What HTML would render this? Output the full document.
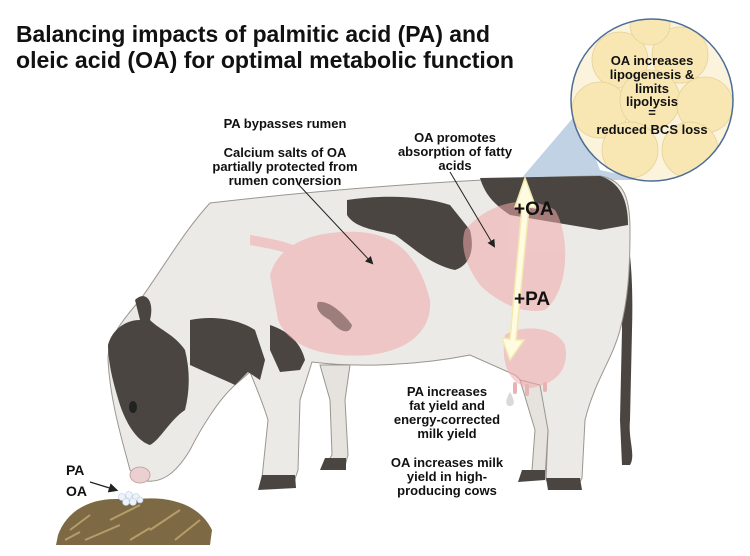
<!DOCTYPE html>
<html><head><meta charset="utf-8"><style>
html,body{margin:0;padding:0;background:#fff;}
svg{display:block;}
text{font-family:"Liberation Sans",sans-serif;font-weight:bold;fill:#111;}
</style></head><body>
<svg width="750" height="556" viewBox="0 0 750 556" xmlns="http://www.w3.org/2000/svg">
<defs>
<marker id="ah" markerWidth="8" markerHeight="8" refX="6" refY="4" orient="auto"><path d="M0,0 L8,4 L0,8 Z" fill="#222"/></marker>
<clipPath id="cc"><circle cx="652" cy="100" r="81"/></clipPath>
</defs>
<text x="16" y="42" font-size="23" textLength="474" lengthAdjust="spacingAndGlyphs">Balancing impacts of palmitic acid (PA) and</text>
<text x="16" y="68" font-size="23" textLength="498" lengthAdjust="spacingAndGlyphs">oleic acid (OA) for optimal metabolic function</text>

<polygon points="578,112 520,180 646,180 600,170" fill="#b9cde0" opacity="0.9"/>

<!-- tail -->
<path d="M600,180 C628,200 634,260 632,330 L630,420 C628,440 636,455 630,465 L622,465 L620,420 L622,330 C622,260 612,210 590,190 Z" fill="#4a4540"/>

<path d="M210,203 C320,190 470,178 600,176 C625,180 630,200 630,230 C630,270 628,300 620,330 C612,360 595,380 585,420 L582,478 L578,486 L555,488 L546,480 L548,430 C540,405 528,385 515,375 L470,355 C420,365 360,368 312,362 L300,400 L298,470 L294,482 L268,488 L262,478 L268,420 C262,400 255,385 250,372 L235,385 C218,400 200,430 190,450 C175,475 160,485 140,480 L130,470 C122,440 110,400 108,360 C108,340 118,325 140,300 C165,265 185,230 210,203 Z" fill="#eceae6" stroke="#9a958f" stroke-width="1"/>
<path d="M320,365 L330,400 L332,455 L325,465 L345,466 L348,455 L345,400 L350,365 Z" fill="#e6e3de" stroke="#9a958f" stroke-width="1"/>
<path d="M520,380 L535,430 L532,470 L528,478 L545,478 L548,430 L540,385 Z" fill="#e6e3de" stroke="#9a958f" stroke-width="1"/>
<path d="M262,475 L295,475 L296,488 L258,490 Z" fill="#4a4540"/>
<path d="M325,458 L346,458 L346,470 L320,470 Z" fill="#4a4540"/>
<path d="M546,478 L580,478 L582,490 L548,490 Z" fill="#4a4540"/>
<path d="M522,470 L545,470 L545,480 L518,482 Z" fill="#4a4540"/>
<path d="M347,200 C380,195 420,195 450,205 L470,230 C475,250 470,265 455,270 C430,265 410,245 395,235 C375,230 355,228 347,215 Z" fill="#4a4540"/>
<path d="M480,178 L600,176 C620,182 628,200 628,225 L600,230 C570,225 540,220 510,215 C495,205 485,195 480,178 Z" fill="#4a4540"/>
<path d="M190,320 C215,315 240,320 255,330 L265,360 L260,380 L248,372 L235,385 C225,380 205,372 190,365 Z" fill="#4a4540"/>
<path d="M270,325 C285,330 300,340 305,360 L300,370 L280,372 L270,350 Z" fill="#4a4540"/>
<path d="M108,345 C112,330 125,320 140,320 L135,300 C145,290 155,300 150,320 C160,330 175,335 185,350 C190,370 190,390 185,410 C170,420 160,440 150,445 C135,440 125,420 120,405 C112,380 108,360 108,345 Z" fill="#4a4540"/>
<ellipse cx="133" cy="407" rx="4" ry="6" fill="#222"/>
<ellipse cx="140" cy="475" rx="10" ry="8" fill="#eccfd0" stroke="#b99" stroke-width="0.8"/>
<g opacity="0.55">
<path d="M250,235 C280,240 300,245 310,255 L300,260 C285,250 265,248 250,245 Z" fill="#f2a9ac"/>
<path d="M270,275 C280,240 320,230 360,232 C400,235 420,260 430,300 C432,330 410,350 370,355 C330,358 290,350 278,320 Z" fill="#f2a9ac"/>
<path d="M465,230 C490,200 530,195 555,210 C570,235 570,290 545,310 C520,315 495,300 480,285 C465,265 460,245 465,230 Z" fill="#f2a9ac"/>
<path d="M505,335 C520,325 555,325 565,345 C570,370 555,385 530,388 C510,385 500,365 505,335 Z" fill="#f2a9ac"/>
</g>
<path d="M318,302 C330,300 345,315 352,325 C350,335 340,333 330,320 C320,315 315,308 318,302 Z" fill="#8a6a6a" opacity="0.8"/>
<rect x="513" y="382" width="4" height="12" rx="2" fill="#e7b3b5"/>
<rect x="525" y="384" width="4" height="12" rx="2" fill="#e7b3b5"/>
<rect x="543" y="382" width="4" height="10" rx="2" fill="#e7b3b5"/>
<path d="M510,392 C505,400 505,406 510,406 C515,406 515,400 510,392 Z" fill="#d9d9dd"/>
<path d="M525,178 L536,208 L529,207 L516,340 L524,340 L510,360 L502,338 L510,339 L522,207 L515,207 Z" fill="#fffbe0" stroke="#f3e9b0" stroke-width="1.5"/>
<line x1="298" y1="184" x2="372" y2="263" stroke="#222" stroke-width="1" marker-end="url(#ah)"/>
<line x1="450" y1="172" x2="494" y2="246" stroke="#222" stroke-width="1" marker-end="url(#ah)"/>
<line x1="90" y1="482" x2="116" y2="490" stroke="#222" stroke-width="1.2" marker-end="url(#ah)"/>
<path d="M58,535 C68,508 95,495 130,500 C170,494 200,505 212,530 L210,545 L56,545 Z" fill="#7d6a45"/>
<path d="M70,530 L90,515 M110,520 L140,505 M150,530 L180,510 M85,540 L120,525 M175,540 L200,520 M65,540 L80,532 M130,540 L150,528" stroke="#b59c6a" stroke-width="2"/>
<g fill="#eef3fb" stroke="#b8c8dd" stroke-width="0.6">
<circle cx="122" cy="497" r="3.5"/><circle cx="129" cy="495" r="3.5"/><circle cx="136" cy="497" r="3.5"/><circle cx="126" cy="502" r="3.5"/><circle cx="133" cy="502" r="3.5"/><circle cx="140" cy="500" r="3"/>
</g>
<g clip-path="url(#cc)">
<rect x="560" y="10" width="190" height="190" fill="#fbf3dc"/>
<g fill="#f8e7b2" stroke="#e5d29a" stroke-width="0.8">
<circle cx="620" cy="60" r="28"/><circle cx="680" cy="55" r="28"/><circle cx="600" cy="110" r="28"/><circle cx="650" cy="100" r="30"/><circle cx="705" cy="105" r="28"/><circle cx="630" cy="150" r="28"/><circle cx="690" cy="150" r="28"/><circle cx="650" cy="25" r="20"/>
</g>
</g>
<circle cx="652" cy="100" r="81" fill="none" stroke="#4d6d96" stroke-width="1.5"/>
<g text-anchor="middle" font-size="13">
<text x="652" y="65">OA increases</text>
<text x="652" y="79">lipogenesis &amp;</text>
<text x="652" y="93">limits</text>
<text x="652" y="106">lipolysis</text>
<text x="652" y="117">=</text>
<text x="652" y="134">reduced BCS loss</text>
</g>
<g text-anchor="middle" font-size="13">
<text x="285" y="128">PA bypasses rumen</text>
<text x="285" y="157">Calcium salts of OA</text>
<text x="285" y="171">partially protected from</text>
<text x="285" y="185">rumen conversion</text>
<text x="455" y="142">OA promotes</text>
<text x="455" y="156">absorption of fatty</text>
<text x="455" y="170">acids</text>
<text x="447" y="396">PA increases</text>
<text x="447" y="410">fat yield and</text>
<text x="447" y="424">energy-corrected</text>
<text x="447" y="438">milk yield</text>
<text x="447" y="467">OA increases milk</text>
<text x="447" y="481">yield in high-</text>
<text x="447" y="495">producing cows</text>
</g>
<text x="514" y="215" font-size="19">+OA</text>
<text x="514" y="305" font-size="19">+PA</text>
<text x="66" y="475" font-size="14">PA</text>
<text x="66" y="496" font-size="14">OA</text>
</svg>
</body></html>
